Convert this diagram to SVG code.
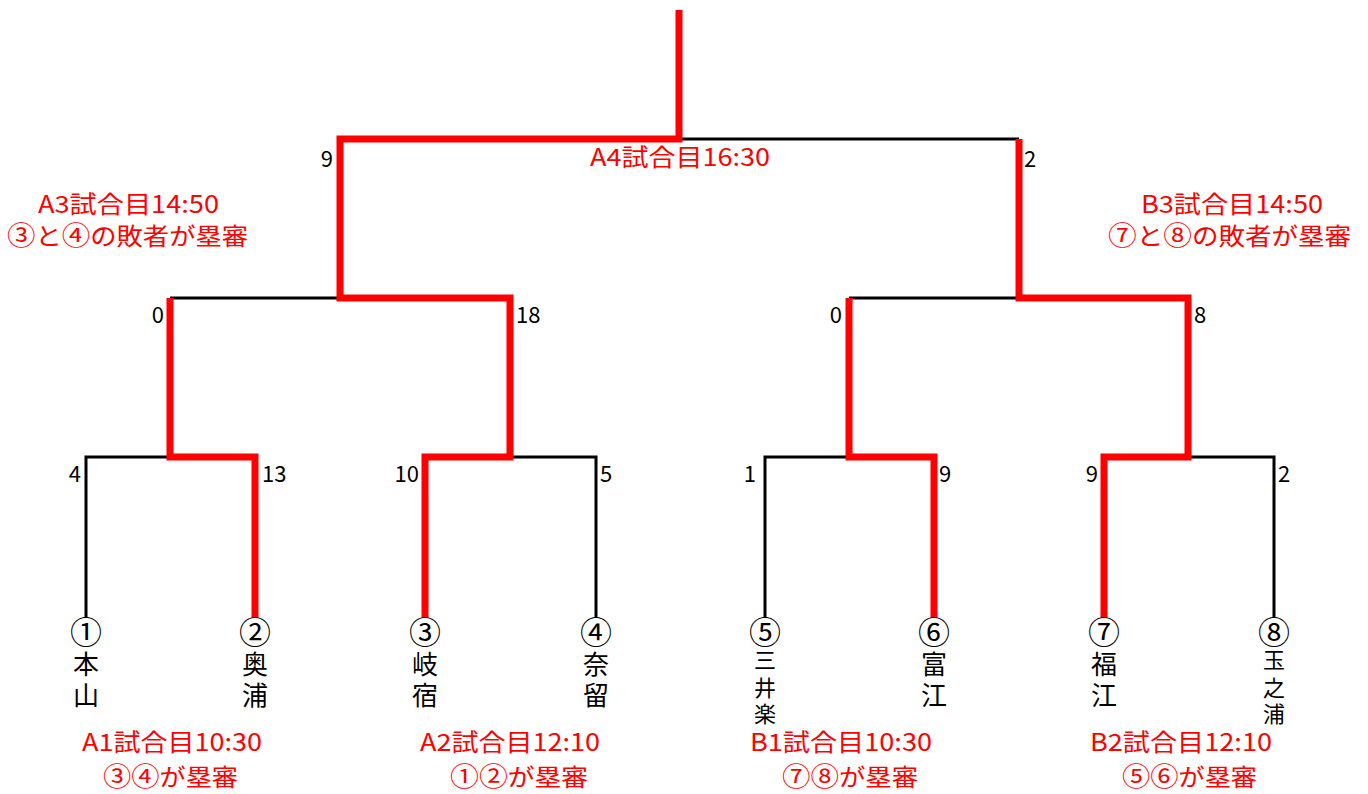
<svg xmlns="http://www.w3.org/2000/svg" width="1368" height="794" viewBox="0 0 1368 794">
<style>
text{font-family:"Noto Sans CJK JP","Noto Sans CJK SC",sans-serif;}
.blk{fill:none;stroke:#000;stroke-width:3;}
.red{fill:none;stroke:#FF0000;stroke-width:7;stroke-linejoin:miter;}
.team{fill:#000;text-anchor:middle;}
.num{font-size:32px;}
.nm{font-size:26px;}
.nm3{font-size:22px;}
.sc{font-size:22px;fill:#000;}
.l{text-anchor:end;}
.lab{font-size:24px;fill:#FF0000;}
.c{font-size:26px;}
</style>
<rect width="1368" height="794" fill="#fff"/>
<g id="connectors">
<path class="blk" d="M86,617V457H254M424,457H596V617M765,617V457H934M1104,457H1274V617M170,298H510M849,298H1188M340,139H1019"/>
<path class="red" d="M255,617V457H170V298"/>
<path class="red" d="M425,617V457H510V298H340V139H679V10"/>
<path class="red" d="M934,617V457H849V298"/>
<path class="red" d="M1104,617V457H1188V298H1019V139"/>
</g>
<g id="scores">
<text class="sc l" x="81" y="482">4</text>
<text class="sc" x="262" y="482">13</text>
<text class="sc l" x="419" y="482">10</text>
<text class="sc" x="600" y="482">5</text>
<text class="sc l" x="756" y="482">1</text>
<text class="sc" x="939" y="482">9</text>
<text class="sc l" x="1098" y="482">9</text>
<text class="sc" x="1278" y="482">2</text>
<text class="sc l" x="164" y="323">0</text>
<text class="sc" x="516" y="323">18</text>
<text class="sc l" x="842" y="323">0</text>
<text class="sc" x="1194" y="323">8</text>
<text class="sc l" x="333" y="167">9</text>
<text class="sc" x="1024" y="167">2</text>
</g>
<g id="team1"><text class="team num" x="86" y="644">①</text><text class="team nm" x="86 86" y="674 705">本山</text></g>
<g id="team2"><text class="team num" x="255" y="644">②</text><text class="team nm" x="255 255" y="674 705">奥浦</text></g>
<g id="team3"><text class="team num" x="425" y="644">③</text><text class="team nm" x="425 425" y="674 705">岐宿</text></g>
<g id="team4"><text class="team num" x="596" y="644">④</text><text class="team nm" x="596 596" y="674 705">奈留</text></g>
<g id="team5"><text class="team num" x="765" y="644">⑤</text><text class="team nm3" x="765 765 765" y="668 696 722">三井楽</text></g>
<g id="team6"><text class="team num" x="934" y="644">⑥</text><text class="team nm" x="934 934" y="674 705">富江</text></g>
<g id="team7"><text class="team num" x="1104" y="644">⑦</text><text class="team nm" x="1104 1104" y="674 705">福江</text></g>
<g id="team8"><text class="team num" x="1274" y="644">⑧</text><text class="team nm3" x="1274 1274 1274" y="668 696 722">玉之浦</text></g>
<g id="match-A1"><text class="lab" x="82" y="751" textLength="180" lengthAdjust="spacingAndGlyphs">A1試合目10:30</text><text class="lab" x="103" y="786" textLength="135" lengthAdjust="spacingAndGlyphs"><tspan class="c">③④</tspan>が塁審</text></g>
<g id="match-A2"><text class="lab" x="420" y="751" textLength="180" lengthAdjust="spacingAndGlyphs">A2試合目12:10</text><text class="lab" x="450" y="786" textLength="138" lengthAdjust="spacingAndGlyphs"><tspan class="c">①②</tspan>が塁審</text></g>
<g id="match-B1"><text class="lab" x="750" y="751" textLength="182" lengthAdjust="spacingAndGlyphs">B1試合目10:30</text><text class="lab" x="782" y="786" textLength="136" lengthAdjust="spacingAndGlyphs"><tspan class="c">⑦⑧</tspan>が塁審</text></g>
<g id="match-B2"><text class="lab" x="1090" y="751" textLength="182" lengthAdjust="spacingAndGlyphs">B2試合目12:10</text><text class="lab" x="1122" y="786" textLength="135" lengthAdjust="spacingAndGlyphs"><tspan class="c">⑤⑥</tspan>が塁審</text></g>
<g id="match-A3"><text class="lab" x="38" y="213" textLength="181" lengthAdjust="spacingAndGlyphs">A3試合目14:50</text><text class="lab" x="7" y="245" textLength="241" lengthAdjust="spacingAndGlyphs"><tspan class="c">③</tspan>と<tspan class="c">④</tspan>の敗者が塁審</text></g>
<g id="match-B3"><text class="lab" x="1141" y="213" textLength="182" lengthAdjust="spacingAndGlyphs">B3試合目14:50</text><text class="lab" x="1108" y="245" textLength="243" lengthAdjust="spacingAndGlyphs"><tspan class="c">⑦</tspan>と<tspan class="c">⑧</tspan>の敗者が塁審</text></g>
<g id="match-A4"><text class="lab" x="590" y="166" textLength="180" lengthAdjust="spacingAndGlyphs">A4試合目16:30</text></g>
</svg>
